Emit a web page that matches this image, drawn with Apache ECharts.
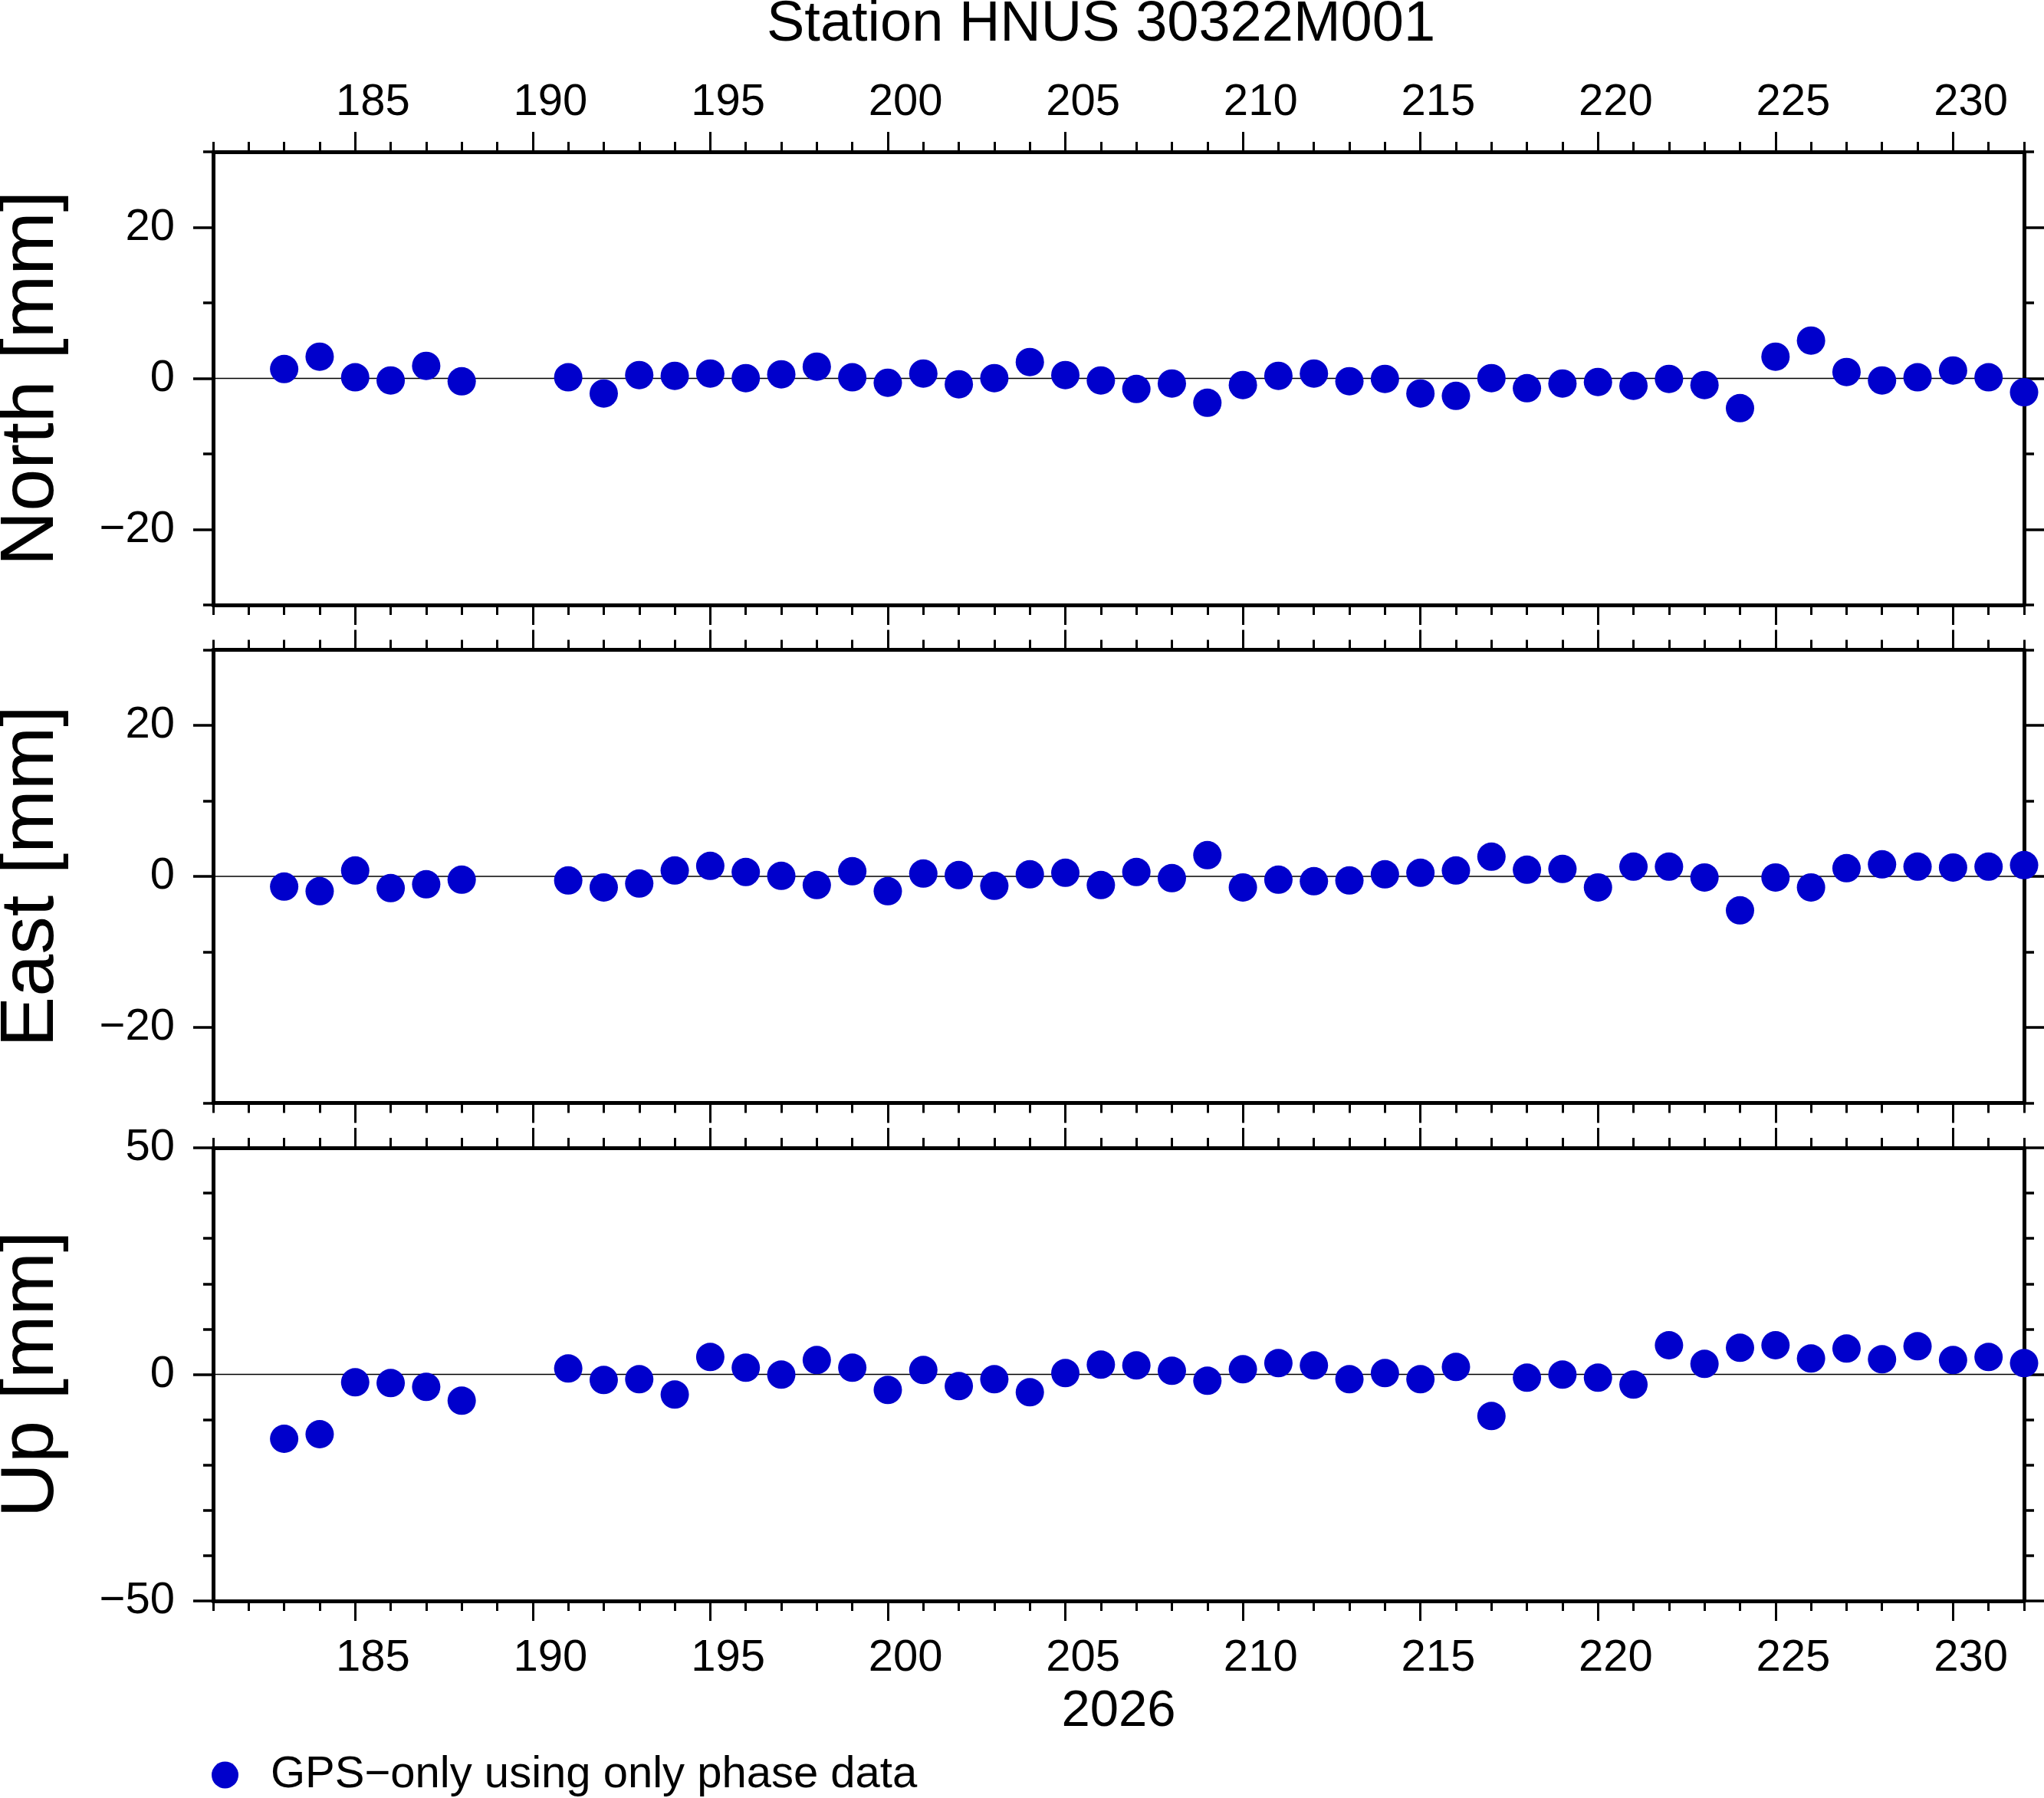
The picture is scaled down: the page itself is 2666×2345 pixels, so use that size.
<!DOCTYPE html>
<html>
<head>
<meta charset="utf-8">
<script src="https://cdn.jsdelivr.net/npm/echarts@6/dist/echarts.min.js"></script>
<style>
html,body{margin:0;padding:0;background:#fff;}
#chart{width:2666px;height:2345px;}
</style>
</head>
<body>
<div id="chart"></div>
<script>
// ---- data (day of year 2026, displacement in mm) ----
const days = [183,184,185,186,187,188,
  191,192,193,194,195,196,197,198,199,200,201,202,203,204,205,206,
  207,208,209,210,211,212,213,214,215,216,217,218,219,220,221,222,223,224,225,226,227,228,229,230,231,232];
const north = [1.24,2.88,0.14,-0.27,1.66,-0.39,
  0.14,-2.0,0.44,0.34,0.64,0.03,0.54,1.56,0.14,-0.58,0.64,-0.78,0.03,2.17,0.44,-0.27,
  -1.40,-0.68,-3.23,-0.88,0.34,0.64,-0.37,-0.07,-2.0,-2.32,0.03,-1.30,-0.68,-0.47,-0.98,-0.07,-0.88,-3.94,2.88,5.01,0.85,-0.27,0.14,1.05,0.14,-1.84];
const east = [-1.35,-1.96,0.78,-1.56,-1.05,-0.44,
  -0.54,-1.46,-0.95,0.78,1.39,0.58,0.07,-1.15,0.68,-1.96,0.37,0.17,-1.25,0.27,0.47,-1.15,
  0.58,-0.24,2.81,-1.46,-0.44,-0.64,-0.54,0.27,0.47,0.78,2.61,0.88,0.98,-1.46,1.29,1.29,-0.14,-4.50,-0.14,-1.46,1.08,1.59,1.29,1.18,1.29,1.49];
const up = [-14.21,-13.20,-1.75,-1.92,-2.76,-5.81,
  1.30,-1.24,-1.07,-4.46,3.84,1.47,-0.06,3.16,1.47,-3.44,0.96,-2.59,-1.07,-3.95,0.28,2.14,
  1.97,0.79,-1.41,1.13,2.48,1.97,-1.07,0.28,-1.07,1.64,-9.19,-0.73,-0.06,-0.73,-2.26,6.43,2.31,5.87,6.43,3.50,5.70,3.33,6.20,3.16,3.84,2.48];
const xTickLabels = [185,190,195,200,205,210,215,220,225,230];
const yLabelsNE = [-20,0,20];
const yLabelsUp = [-50,0,50];
const X_MIN = 181, X_MAX = 232;
const seriesName = 'GPS\u2212only using only phase data';
const titleText = 'Station HNUS 30322M001';
const yearText = '2026';

// ---- layout ----
const FONT = 'Liberation Sans, Helvetica, Arial, sans-serif';
const GRID_LEFT = 278, GRID_RIGHT = 26;
const panels = [
  {name:'North [mm]', values:north, min:-30, max:30, labels:yLabelsNE, top:198, height:591},
  {name:'East [mm]',  values:east,  min:-30, max:30, labels:yLabelsNE, top:847.5, height:591},
  {name:'Up [mm]',    values:up,    min:-50, max:50, labels:yLabelsUp, top:1497, height:591}
];
const minusFmt = v => (v < 0 ? '\u2212' + (-v) : String(v));

const grids = [], xAxes = [], yAxes = [], series = [];

function xDef(g, pos, withLine, custom) {
  const tick = {show:true, inside:false, length: custom ? 26 : 13, lineStyle:{color:'#000', width:3}};
  if (custom) tick.customValues = custom;
  return {type:'value', gridIndex:g, position:pos, min:X_MIN, max:X_MAX, interval:1,
    axisLine:{show:withLine, onZero:false, lineStyle:{color:'#000', width:5}},
    axisTick:tick, axisLabel:{show:false}, splitLine:{show:false}, axisPointer:{show:false}};
}
function yDef(g, pos, withLine, custom, p) {
  const tick = {show:true, inside:false, length: custom ? 26 : 13, lineStyle:{color:'#000', width:3.5}};
  if (custom) tick.customValues = custom;
  return {type:'value', gridIndex:g, position:pos, min:p.min, max:p.max, interval:10,
    axisLine:{show:withLine, onZero:false, lineStyle:{color:'#000', width:5}},
    axisTick:tick, axisLabel:{show:false}, splitLine:{show:false}, axisPointer:{show:false}};
}

panels.forEach((p, i) => {
  grids.push({left:GRID_LEFT, right:GRID_RIGHT, top:p.top, height:p.height, containLabel:false, outerBoundsMode:'none'});
  const xMain = xAxes.length;
  xAxes.push(xDef(i, 'bottom', true, null));
  xAxes.push(xDef(i, 'bottom', false, xTickLabels));
  xAxes.push(xDef(i, 'top', true, null));
  xAxes.push(xDef(i, 'top', false, xTickLabels));
  const yMain = yAxes.length;
  const ym = yDef(i, 'left', true, null, p);
  ym.name = p.name;
  ym.nameLocation = 'middle';
  ym.nameGap = 187;
  ym.nameTextStyle = {fontSize:99, fontFamily:FONT, color:'#000'};
  yAxes.push(ym);
  const yl = yDef(i, 'left', false, p.labels, p);
  yl.axisLabel = {show:true, customValues:p.labels, margin:50, fontSize:58, fontFamily:FONT, color:'#000', formatter:minusFmt};
  yAxes.push(yl);
  yAxes.push(yDef(i, 'right', true, null, p));
  yAxes.push(yDef(i, 'right', false, p.labels, p));

  series.push({type:'line', name:'zero'+i, xAxisIndex:xMain, yAxisIndex:yMain,
    data:[[X_MIN,0],[X_MAX,0]], symbol:'none', silent:true, z:1,
    lineStyle:{color:'#000', width:1.3}});
  series.push({type:'scatter', name:seriesName, xAxisIndex:xMain, yAxisIndex:yMain,
    data:days.map((d,k)=>[d, p.values[k]]), symbol:'circle', symbolSize:37, clip:false, z:3,
    itemStyle:{color:'#0000cc', opacity:1}});
});

// tick-label axes (labels centred on the day interval)
function labelAxis(g, pos, extra) {
  return Object.assign({type:'value', gridIndex:g, position:pos, min:X_MIN-0.5, max:X_MAX-0.5,
    axisLine:{show:false, onZero:false}, axisTick:{show:false}, splitLine:{show:false},
    axisLabel:{show:true, customValues:xTickLabels, margin: pos==='top'?35:46, fontSize:58, fontFamily:FONT, color:'#000'},
    axisPointer:{show:false}}, extra || {});
}
xAxes.push(labelAxis(0, 'top'));
xAxes.push(labelAxis(2, 'bottom', {name:yearText, nameLocation:'middle', nameGap:111,
  nameTextStyle:{fontSize:67, fontFamily:FONT, color:'#000'}}));

const option = {
  animation:false,
  backgroundColor:'#fff',
  textStyle:{fontFamily:FONT},
  graphic:[{type:'text', x:1436, y:33, style:{text:titleText, font:'74px ' + FONT, fill:'#000', textAlign:'center', textVerticalAlign:'middle'}}],
  legend:{data:[seriesName], left:276, top:2286, padding:0, itemWidth:35, itemHeight:35, icon:'circle',
    textStyle:{fontSize:58, fontFamily:FONT, color:'#000', padding:[0,0,0,37]}},
  grid:grids,
  xAxis:xAxes,
  yAxis:yAxes,
  series:series
};
const chart = echarts.init(document.getElementById('chart'), null, {renderer:'canvas'});
chart.setOption(option);
</script>
</body>
</html>
